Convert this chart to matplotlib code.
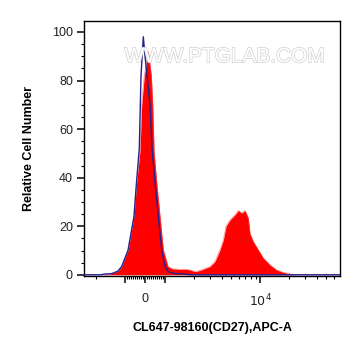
"""Flow cytometry overlay histogram: CD27 staining vs. isotype control."""

import matplotlib

matplotlib.use("Agg")
import matplotlib.pyplot as plt
from matplotlib.ticker import FixedLocator, FixedFormatter, MultipleLocator
import matplotlib.patheffects as pe

plt.rcParams["font.family"] = ["Liberation Sans", "DejaVu Sans"]

# sample (red, filled) - fluorescence value vs relative cell number
sample_x = [-2700, -1830, -1440, -1185, -1083, -835, -550, -415, -250, -165, -35, 165,
            315, 385, 450, 585, 750, 915, 1075, 1185, 1440, 1624, 1833, 2069, 2336,
            2976, 3360, 3793, 4110, 4385, 4833, 5456, 5916, 6418, 6951, 7537, 7848,
            8505, 9597, 10840, 12740, 14970, 17580, 20690, 23360, 69500]
sample_y = [0, 0, 0.3, 1.5, 3.4, 10.3, 24, 38, 51, 70, 82, 92,
            82, 70, 51, 38, 24, 10.3, 3.4, 2.5, 2.2, 2.3, 2, 1.3, 1.8,
            3.4, 5.5, 10.3, 14.4, 20, 22.6, 24.7, 26.5, 25.4, 26.5, 23.3, 17,
            13.7, 10.3, 6.9, 4.1, 2, 1, 0.4, 0, 0]

# isotype control (navy line)
control_x = [-2700, -1833, -1624, -1370, -1185, -1083, -850, -550, -425, -285, -200, -85,
             0, 100, 250, 350, 500, 665, 835, 1000, 1075, 1274, 1624, 1833, 69500]
control_y = [0, 0, 0.3, 0.5, 1.5, 3.4, 10, 24, 38, 52, 82, 98,
             90, 82, 70, 52, 38, 24, 10, 3.4, 1.3, 0.5, 0.3, 0, 0]

x_major = [-1000, 0, 1000, 10000]
x_major_labels = ["", "0", "", "$10^4$"]
x_minor = ([-2000] + list(range(-900, 0, 100)) + list(range(100, 1000, 100))
           + list(range(2000, 10000, 1000)) + list(range(20000, 70000, 10000)))

fig = plt.figure(figsize=(3.61, 3.56), dpi=100)
ax = fig.add_axes([0.2327, 0.2247, 0.7091, 0.7163])

ax.set_xscale("symlog", linthresh=1000, linscale=0.19)
ax.fill_between(sample_x, sample_y, 0, color="#ff0000", linewidth=0, zorder=2)
ax.plot(sample_x, sample_y, color="#ff5050", linewidth=0.6, alpha=0.6, zorder=2)
ax.plot(control_x, control_y, color="#22228e", linewidth=1.0, zorder=3)

ax.set_xlim(-2700, 69500)
ax.set_ylim(-0.5, 104.5)

ax.xaxis.set_major_locator(FixedLocator(x_major))
ax.xaxis.set_major_formatter(FixedFormatter(x_major_labels))
ax.xaxis.set_minor_locator(FixedLocator(x_minor))
ax.yaxis.set_major_locator(MultipleLocator(20))
ax.yaxis.set_minor_locator(MultipleLocator(5))

ax.tick_params(axis="both", which="major", length=5, width=1.1, labelsize=9,
               colors="black", labelcolor="#222222", pad=3)
ax.tick_params(axis="both", which="minor", length=2.5, width=0.8)
ax.tick_params(axis="x", which="major", pad=7)
for s in ax.spines.values():
    s.set_linewidth(1.0)

ax.set_xlabel("CL647-98160(CD27),APC-A", fontsize=9, fontweight="bold", labelpad=9)
ax.set_ylabel("Relative Cell Number", fontsize=9, fontweight="bold", labelpad=12)

ax.text(0.55, 0.86, "WWW.PTGLAB.COM", transform=ax.transAxes, ha="center", va="center",
        fontsize=15, color="white", clip_on=False, zorder=4,
        path_effects=[pe.withStroke(linewidth=1.1, foreground="#d4d4d4")])

fig.savefig("out.png", dpi=100)
